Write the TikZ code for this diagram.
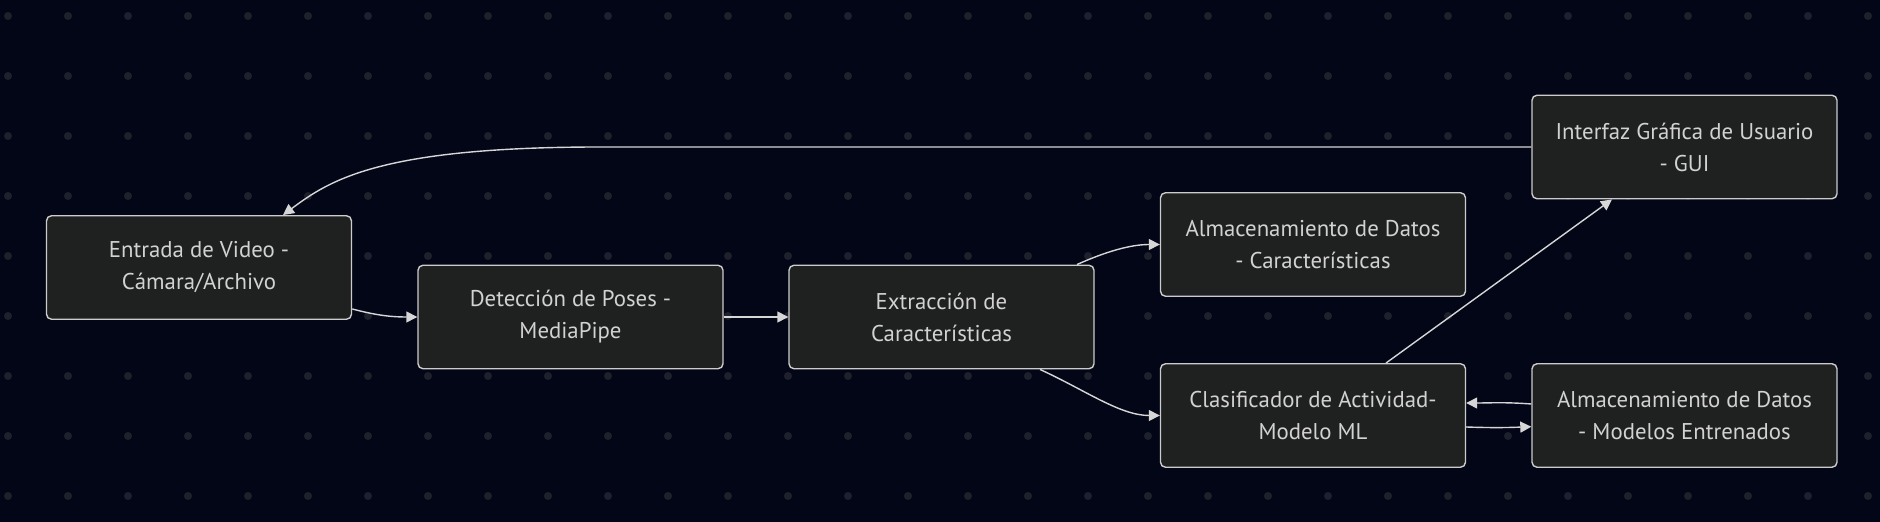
\documentclass[tikz,border=0pt]{standalone}
\usepackage{fontspec}
\setmainfont{PT Sans}
\usetikzlibrary{arrows.meta}
\definecolor{bgc}{HTML}{030617}
\definecolor{dotc}{HTML}{1E202C}
\definecolor{nodefill}{HTML}{1F2020}
\definecolor{nodeline}{HTML}{CCCCCC}
\definecolor{txtc}{HTML}{D2D2D2}
\definecolor{edgec}{HTML}{D6D6D6}
\begin{document}
\begin{tikzpicture}[x=1pt,y=1pt,
  box/.style={draw=nodeline, line width=1.4pt, fill=nodefill, rounded corners=5pt,
    minimum width=305pt, minimum height=103.5pt, inner sep=0pt, align=center,
    text=txtc, font=\fontsize{22.8}{32}\selectfont},
  conn/.style={draw=edgec, line width=1.4pt, -{Triangle[length=11pt,width=11pt]}}]
\fill[bgc] (0,0) rectangle (1880,522);
\useasboundingbox (0,0) rectangle (1880,522);
\foreach \i in {0,...,31}{\foreach \j in {0,...,8}{
  \fill[dotc] ({8+60*\i},{506-60*\j}) circle (4pt);}}
\node[box] (A) at (199,254.5) {Entrada de Video -\\Cámara/Archivo};
\node[box] (B) at (570.5,205) {Detección de Poses -\\MediaPipe};
\node[box] (C) at (941.5,205) {Extracción de\\Características};
\node[box] (D) at (1313,277.5) {Almacenamiento de Datos\\- Características};
\node[box] (E) at (1313,106.5) {Clasificador de Actividad-\\Modelo ML};
\node[box] (F) at (1684.5,375) {Interfaz Gráfica de Usuario\\- GUI};
\node[box] (G) at (1684.5,106.5) {Almacenamiento de Datos\\- Modelos Entrenados};
\draw[conn] (F.west) -- (600,375) .. controls (380,375) and (330,342) .. ([xshift=84pt]A.north);
\draw[conn] ([yshift=11pt]A.south east) .. controls (375,207) and (390,205) .. (B.west);
\draw[conn] (B.east) -- (C.west);
\draw[conn] ([xshift=135.5pt]C.north) .. controls (1105,270) and (1130,277.5) .. (D.west);
\draw[conn] ([xshift=98.5pt]C.south) .. controls (1085,132) and (1120,106.5) .. (E.west);
\draw[conn] ([xshift=73pt]E.north) -- ([xshift=-72.5pt]F.south);
\draw[conn] ([yshift=11.5pt]G.west) .. controls (1505,120) and (1490,119) .. ([yshift=12.5pt]E.east);
\draw[conn] ([yshift=-11.5pt]E.east) .. controls (1495,94) and (1510,94.5) .. ([yshift=-11.2pt]G.west);
\end{tikzpicture}
\end{document}
